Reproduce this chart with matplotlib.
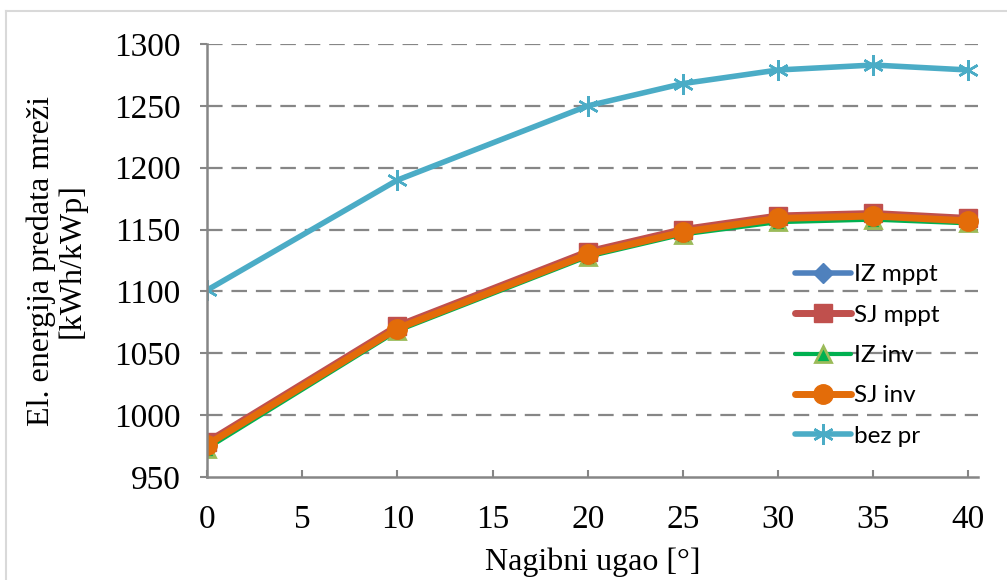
import matplotlib
matplotlib.use("Agg")
import matplotlib.pyplot as plt
from matplotlib.lines import Line2D

# Data
angles = [0, 10, 20, 25, 30, 35, 40]
iz_mppt = [976, 1070, 1130, 1148, 1158, 1160, 1157]
sj_mppt = [978, 1072, 1132, 1150, 1161, 1163, 1159]
iz_inv = [973, 1068, 1128, 1146, 1156, 1158, 1155]
sj_inv = [976, 1070, 1130, 1148, 1159, 1161, 1157]
bez_pr = [1101, 1190, 1250, 1268, 1279, 1283, 1279]
labels = ["IZ mppt", "SJ mppt", "IZ inv", "SJ inv", "bez pr"]
x_ticks = [0, 5, 10, 15, 20, 25, 30, 35, 40]
y_ticks = [950, 1000, 1050, 1100, 1150, 1200, 1250, 1300]

serif = "Liberation Serif"
fig = plt.figure(figsize=(10.07, 5.80), dpi=100)
ax = fig.add_axes([207/1007, 1-477/580, (978-207)/1007, (477-44)/580])

styles = [
    dict(color="#4F81BD", lw=4, marker="D", ms=10, mfc="#4F81BD", mec="#4F81BD"),
    dict(color="#C0504D", lw=5, marker="s", ms=13, mfc="#C0504D", mec="#C0504D"),
    dict(color="#00B050", lw=3, marker="^", ms=11, mfc="#00B050", mec="#9BBB59", mew=2),
    dict(color="#E36C09", lw=5, marker="o", ms=14, mfc="#E36C09", mec="#E36C09"),
    dict(color="#4BACC6", lw=4, marker=(6, 2, 0), ms=15, mfc="#4BACC6", mec="#4BACC6", mew=1.8),
]
series = [iz_mppt, sj_mppt, iz_inv, sj_inv, bez_pr]
handles = []
for s, lab, st in zip(series, labels, styles):
    h, = ax.plot(angles, s, label=lab, solid_capstyle="round", **st)
    handles.append(h)

ax.set_xlim(0, 40.5)
ax.set_ylim(950, 1300)
ax.set_xticks(x_ticks)
ax.set_yticks(y_ticks)
for y in y_ticks[1:]:
    ax.axhline(y, color="#868686", lw=1.6, dashes=(7, 4), zorder=0)

for sp in ["top", "right"]:
    ax.spines[sp].set_visible(False)
for sp in ["left", "bottom"]:
    ax.spines[sp].set_color("#868686")
    ax.spines[sp].set_linewidth(1.8)

ax.tick_params(axis="y", direction="out", length=5, width=1.5, color="#868686", pad=14,
               labelsize=24, labelfontfamily=serif)
ax.tick_params(axis="x", direction="in", length=5, width=1.5, color="#868686", pad=20,
               labelsize=24, labelfontfamily=serif)

ax.set_xlabel("Nagibni ugao [°]", fontsize=23, family=serif, labelpad=9)
ax.set_ylabel("El. energija predata mreži\n[kWh/kWp]", fontsize=23, family=serif,
              labelpad=20, linespacing=1.05)

leg = fig.legend(handles=handles, loc="center left", bbox_to_anchor=(795/1007, 1-355.5/580),
                 frameon=False, prop=dict(family="Lato", size=17.5), handlelength=2.3,
                 handletextpad=0.12, labelspacing=0.8, borderpad=0, borderaxespad=0)

# outer frame
fig.add_artist(Line2D([6/1007, 6/1007], [0, 1-11/580], transform=fig.transFigure,
                      color="#D9D9D9", lw=1.5))
fig.add_artist(Line2D([6/1007, 1], [1-11/580, 1-11/580], transform=fig.transFigure,
                      color="#D9D9D9", lw=1.5))

fig.savefig("out.png", dpi=100)
